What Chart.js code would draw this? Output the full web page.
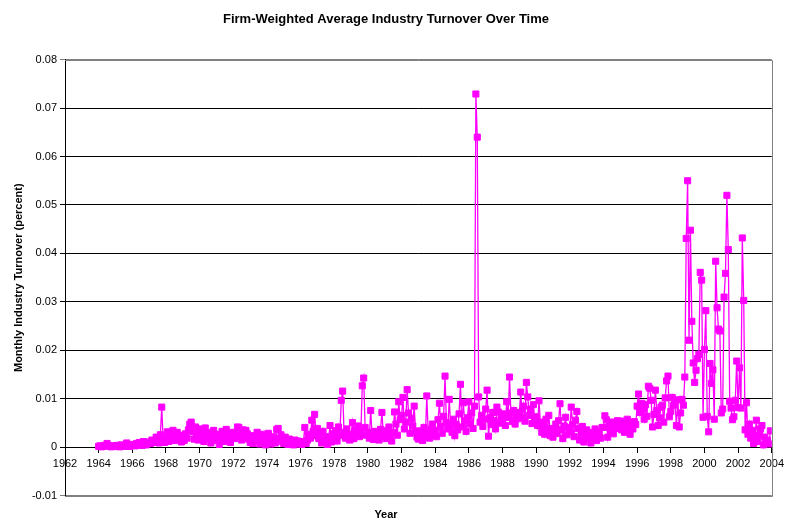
<!DOCTYPE html>
<html><head><meta charset="utf-8">
<script src="https://cdn.jsdelivr.net/npm/chart.js@4"></script>
<style>html,body{margin:0;padding:0;background:#fff}canvas{display:block}</style>
</head><body>
<canvas id="c" width="789" height="525"></canvas>
<script>
const firstYear = 1964;
// monthly values, Jan 1964 .. Dec 1969
const values1960s = [
0.0002,0.0003,0.0001,0.0002,0.0004,0.0003,0.0008,0.0003,0.0002,0.0001,0.0003,0.0002,
0.0002,0.0004,0.0003,0.0001,0.0005,0.0003,0.0002,0.0004,0.0009,0.0003,0.0002,0.0005,
0.0004,0.0006,0.0003,0.0008,0.0005,0.0010,0.0006,0.0004,0.0012,0.0007,0.0005,0.0009,
0.0011,0.0008,0.0015,0.0010,0.0013,0.0021,0.0012,0.0009,0.0026,0.0083,0.0014,0.0010,
0.0019,0.0032,0.0012,0.0027,0.0018,0.0035,0.0014,0.0022,0.0031,0.0016,0.0025,0.0011,
0.0021,0.0014,0.0028,0.0019,0.0036,0.0048,0.0052,0.0033,0.0017,0.0042,0.0026,0.0015];
const values1970s = [
0.0038,0.0022,0.0029,0.0012,0.0040,0.0024,0.0018,0.0031,0.0009,0.0026,0.0035,0.0019,
0.0014,0.0027,0.0006,0.0021,0.0033,0.0012,0.0024,0.0037,0.0016,0.0029,0.0010,0.0022,
0.0031,0.0018,0.0026,0.0042,0.0041,0.0023,0.0015,0.0036,0.0020,0.0035,0.0028,0.0017,
0.0010,0.0024,0.0008,0.0018,0.0013,0.0031,0.0021,0.0007,0.0016,0.0027,0.0012,0.0005,
0.0019,0.0029,0.0011,0.0007,0.0022,0.0015,0.0009,0.0037,0.0039,0.0018,0.0026,0.0012,
0.0008,0.0021,0.0014,0.0006,0.0017,0.0010,0.0012,0.0005,0.0015,0.0009,0.0013,0.0007,
0.0010,0.0006,0.0012,0.0041,0.0008,0.0015,0.0027,0.0019,0.0056,0.0033,0.0068,0.0024,
0.0039,0.0018,0.0027,0.0009,0.0033,0.0014,0.0022,0.0006,0.0017,0.0045,0.0011,0.0028,
0.0021,0.0034,0.0013,0.0042,0.0025,0.0097,0.0116,0.0031,0.0019,0.0038,0.0024,0.0015,
0.0027,0.0051,0.0018,0.0036,0.0029,0.0044,0.0022,0.0033,0.0127,0.0143,0.0041,0.0025];
const values1980s = [
0.0031,0.0019,0.0076,0.0024,0.0016,0.0033,0.0021,0.0028,0.0015,0.0037,0.0072,0.0026,
0.0022,0.0018,0.0035,0.0042,0.0027,0.0013,0.0031,0.0073,0.0048,0.0025,0.0094,0.0057,
0.0066,0.0103,0.0038,0.0052,0.0119,0.0071,0.0029,0.0060,0.0044,0.0085,0.0033,0.0021,
0.0017,0.0034,0.0026,0.0014,0.0041,0.0023,0.0106,0.0030,0.0019,0.0037,0.0048,0.0025,
0.0035,0.0022,0.0057,0.0091,0.0043,0.0029,0.0064,0.0147,0.0051,0.0038,0.0099,0.0046,
0.0031,0.0058,0.0024,0.0047,0.0036,0.0069,0.0130,0.0042,0.0092,0.0055,0.0033,0.0061,
0.0094,0.0048,0.0071,0.0039,0.0085,0.0729,0.0640,0.0104,0.0052,0.0066,0.0043,0.0058,
0.0079,0.0118,0.0023,0.0061,0.0047,0.0072,0.0055,0.0038,0.0083,0.0073,0.0050,0.0064,
0.0058,0.0069,0.0045,0.0094,0.0062,0.0145,0.0071,0.0053,0.0076,0.0048,0.0067,0.0059,
0.0072,0.0114,0.0061,0.0085,0.0054,0.0134,0.0104,0.0066,0.0079,0.0049,0.0088,0.0057];
const values1990s = [
0.0063,0.0045,0.0096,0.0052,0.0031,0.0044,0.0027,0.0058,0.0036,0.0066,0.0024,0.0039,
0.0021,0.0035,0.0048,0.0029,0.0055,0.0090,0.0037,0.0018,0.0044,0.0062,0.0026,0.0041,
0.0033,0.0083,0.0047,0.0022,0.0056,0.0074,0.0039,0.0015,0.0028,0.0043,0.0011,0.0024,
0.0036,0.0018,0.0027,0.0009,0.0031,0.0022,0.0038,0.0014,0.0025,0.0032,0.0019,0.0041,
0.0041,0.0065,0.0057,0.0021,0.0044,0.0035,0.0052,0.0028,0.0047,0.0039,0.0055,0.0043,
0.0049,0.0036,0.0054,0.0031,0.0045,0.0058,0.0040,0.0027,0.0051,0.0038,0.0053,0.0047,
0.0085,0.0110,0.0072,0.0091,0.0079,0.0058,0.0088,0.0064,0.0126,0.0122,0.0097,0.0042,
0.0068,0.0118,0.0076,0.0045,0.0061,0.0083,0.0087,0.0052,0.0102,0.0137,0.0147,0.0063,
0.0074,0.0103,0.0087,0.0092,0.0045,0.0098,0.0042,0.0071,0.0099,0.0087,0.0145,0.0431,
0.0550,0.0221,0.0448,0.0260,0.0174,0.0134,0.0159,0.0183,0.0192,0.0361,0.0345,0.0062];
const values2000s = [
0.0202,0.0282,0.0064,0.0032,0.0173,0.0132,0.0160,0.0058,0.0384,0.0288,0.0244,0.0240,
0.0071,0.0079,0.0310,0.0359,0.0520,0.0408,0.0095,0.0081,0.0057,0.0063,0.0097,0.0178,
0.0082,0.0164,0.0081,0.0432,0.0303,0.0036,0.0092,0.0027,0.0048,0.0019,0.0035,0.0008,
0.0024,0.0056,0.0012,0.0025,0.0038,0.0045,0.0005,0.0021,0.0009,0.0015,0.0007,0.0034];
const yearTicks = [1962,1964,1966,1968,1970,1972,1974,1976,1978,1980,1982,1984,1986,1988,1990,1992,1994,1996,1998,2000,2002,2004];
const valueTicks = [-0.01,0,0.01,0.02,0.03,0.04,0.05,0.06,0.07,0.08];

const allValues = [...values1960s, ...values1970s, ...values1980s, ...values1990s, ...values2000s];
const points = allValues.map((v, i) => ({x: firstYear + i / 12, y: v}));

Chart.defaults.font.family = '"Liberation Sans", Arial, sans-serif';
Chart.defaults.color = '#000';

const framePlugin = {
  id: 'frame',
  beforeDatasetsDraw(chart) {
    const {ctx, chartArea: a} = chart;
    ctx.save();
    ctx.strokeStyle = '#808080';
    ctx.lineWidth = 1;
    ctx.beginPath();
    ctx.moveTo(a.left, Math.round(a.top) + 0.5);
    ctx.lineTo(Math.round(a.right) + 0.5, Math.round(a.top) + 0.5);
    ctx.lineTo(Math.round(a.right) + 0.5, Math.round(a.bottom) + 0.5);
    ctx.lineTo(a.left, Math.round(a.bottom) + 0.5);
    ctx.stroke();
    ctx.restore();
  }
};

new Chart(document.getElementById('c'), {
  type: 'scatter',
  data: {
    datasets: [{
      data: points,
      showLine: true,
      borderColor: '#FF00FF',
      backgroundColor: '#FF00FF',
      borderWidth: 1.3,
      pointStyle: 'rect',
      pointRadius: 4.3,
      pointBorderWidth: 1,
      pointBorderColor: '#FF00FF',
      pointBackgroundColor: '#FF00FF',
      tension: 0
    }]
  },
  options: {
    responsive: false,
    animation: false,
    layout: {padding: {left: 0, right: 17, top: 0, bottom: 0}},
    plugins: {
      legend: {display: false},
      tooltip: {enabled: false},
      title: {
        display: true,
        text: 'Firm-Weighted Average Industry Turnover Over Time',
        font: {size: 13, weight: 'bold'},
        padding: {top: 12, bottom: 32}
      },
      subtitle: {
        display: true,
        position: 'bottom',
        text: 'Year',
        font: {size: 11, weight: 'bold'},
        padding: {top: 13, bottom: 3}
      }
    },
    scales: {
      x: {
        type: 'linear',
        position: {y: 0},
        min: 1962, max: 2004,
        afterBuildTicks: s => { s.ticks = yearTicks.map(v => ({value: v})); },
        ticks: {
          autoSkip: false, maxRotation: 0, padding: 5,
          font: {size: 11},
          callback: v => String(v)
        },
        grid: {drawOnChartArea: false, drawTicks: true, tickLength: 5, color: '#000'},
        border: {display: true, color: '#000', width: 1}
      },
      y: {
        min: -0.01, max: 0.08,
        afterBuildTicks: s => { s.ticks = valueTicks.map(v => ({value: v})); },
        afterFit: s => { s.width = 65; },
        ticks: {
          padding: 3,
          font: {size: 11},
          callback: v => Math.abs(v) < 1e-9 ? '0' : v.toFixed(2)
        },
        title: {
          display: true,
          text: 'Monthly Industry Turnover (percent)',
          font: {size: 11, weight: 'bold'},
          padding: {top: 12, bottom: 0}
        },
        grid: {
          drawTicks: true, tickLength: 5,
          color: ctx => (ctx.tick && (Math.abs(ctx.tick.value + 0.01) < 1e-9 || Math.abs(ctx.tick.value - 0.08) < 1e-9)) ? '#808080' : '#000'
        },
        border: {display: true, color: '#000', width: 1}
      }
    }
  },
  plugins: [framePlugin]
});
</script>
</body></html>
